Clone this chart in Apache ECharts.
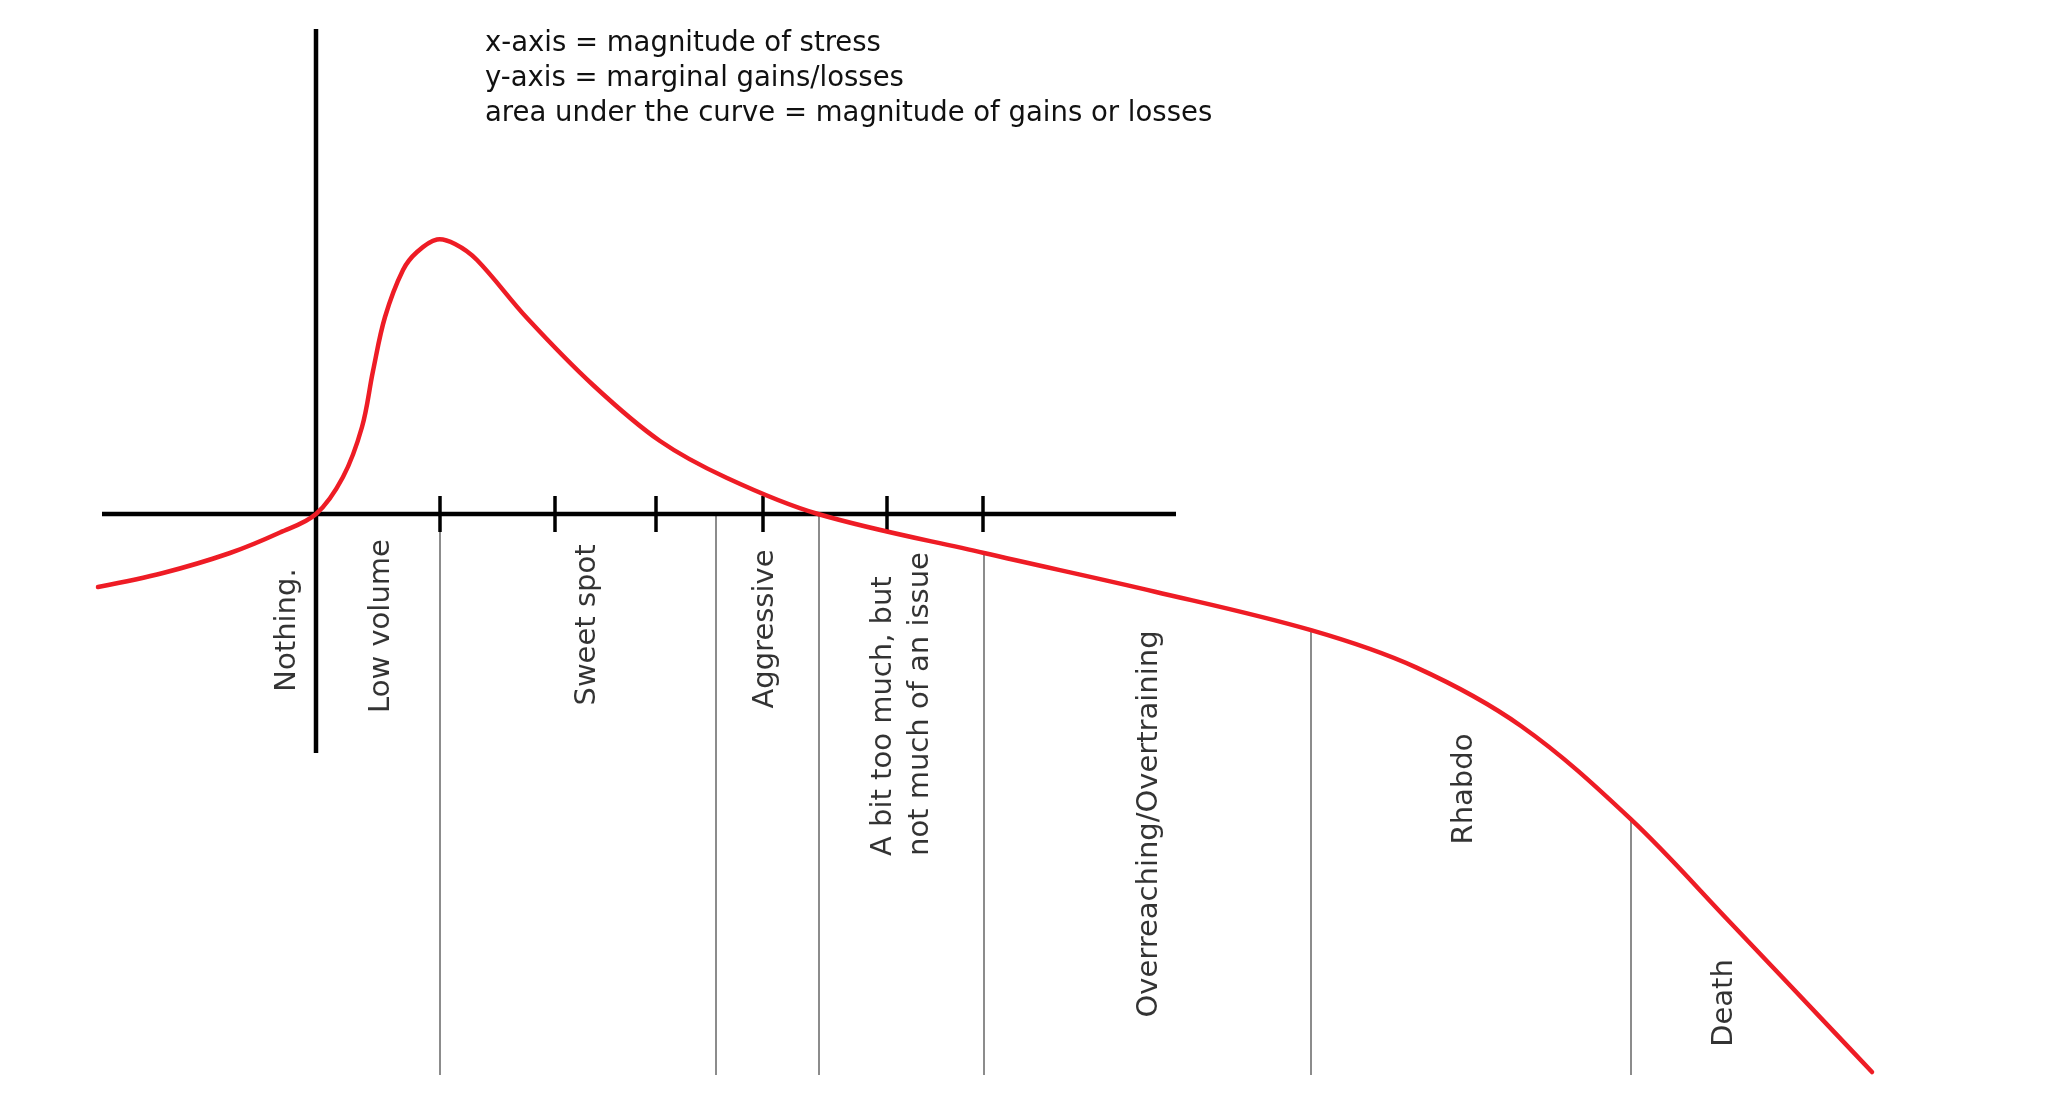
<!DOCTYPE html>
<html>
<head>
<meta charset="utf-8">
<style>
  html, body { margin: 0; padding: 0; background: #ffffff; }
  #chart { width: 2048px; height: 1096px; }
</style>
<script src="https://cdn.jsdelivr.net/npm/echarts@6/dist/echarts.min.js"></script>
</head>
<body>
<div id="chart"></div>
<script>
// ---- data (stress units on x, marginal gain/loss units on y) ----
const curveX = [-21.8, -15.3, -8.6, -3.6, 0, 2.7, 4.6, 5.7, 6.9, 8.7, 10.1, 12.1, 13.9, 16.1, 21.1, 27.7, 34.4, 41.1, 50.2, 66.8, 83.9, 99.5, 110.0, 120.5, 131.45, 141.4, 151.85, 155.6];
const curveY = [-7.3, -5.9, -3.9, -1.85, 0, 3.7, 8.7, 14.3, 19.7, 24.4, 26.2, 27.45, 27.0, 25.4, 19.6, 12.9, 7.3, 3.6, 0, -3.9, -7.77, -11.62, -15.34, -21.2, -30.49, -40.82, -51.84, -55.8];

const xAxisExtent = [-21.4, 86.0];
const yAxisExtent = [48.5, -23.9];

const tickX = [12.4, 23.9, 34.0, 44.7, 57.1, 66.7];
const tickHalf = 1.8;

const dividerX = [12.4, 40.0, 50.3, 66.8, 99.5, 131.5];
const dividerTop = [0, 0, 0, -3.9, -11.6, -30.5];
const dividerBottom = -56.1;

const zoneNames = ['Nothing.', 'Low volume', 'Sweet spot', 'Aggressive', 'A bit too much, but\nnot much of an issue', 'Overreaching/Overtraining', 'Rhabdo', 'Death'];
const zoneX = [-2.9, 6.5, 27.1, 44.9, 58.55, 83.3, 114.8, 140.8];
const zoneY = [-11.6, -11.2, -11.1, -11.5, -34.2, -31.0, -27.5, -48.9];

const legendLines = ['x-axis = magnitude of stress', 'y-axis = marginal gains/losses', 'area under the curve = magnitude of gains or losses'];

// ---- chart ----
const FONT = 'DejaVu Sans';
const chart = echarts.init(document.getElementById('chart'));

function segmentSeries(name, data, color, width) {
  return {
    type: 'custom',
    name: name,
    silent: true,
    data: data,
    renderItem: function (params, api) {
      const p1 = api.coord([api.value(0), api.value(1)]);
      const p2 = api.coord([api.value(2), api.value(3)]);
      return {
        type: 'line',
        shape: { x1: p1[0], y1: p1[1], x2: p2[0], y2: p2[1] },
        style: { stroke: color, lineWidth: width, lineCap: 'butt' }
      };
    },
    z: 2
  };
}

const dividerData = dividerX.map((x, i) => [x, dividerTop[i], x, dividerBottom]);
const tickData = tickX.map(x => [x, tickHalf, x, -tickHalf]);
const axisData = [
  [xAxisExtent[0], 0, xAxisExtent[1], 0],
  [0, yAxisExtent[0], 0, yAxisExtent[1]]
];

const labelData = zoneNames.map((n, i) => {
  const item = { name: n, value: [zoneX[i], zoneY[i]] };
  if (n.indexOf('\n') >= 0) {
    item.label = { align: 'left' };
  }
  return item;
});

chart.setOption({
  backgroundColor: '#ffffff',
  animation: false,
  title: {
    text: legendLines.join('\n'),
    left: 480,
    top: 21,
    textStyle: { fontFamily: FONT, fontSize: 27.5, fontWeight: 'normal', color: '#111', lineHeight: 35 }
  },
  grid: { left: 16, top: 14, width: 1860, height: 1080 },
  xAxis: { type: 'value', min: -30, max: 156, show: false },
  yAxis: { type: 'value', min: -58, max: 50, show: false },
  series: [
    segmentSeries('dividers', dividerData, '#8c8c8c', 2),
    segmentSeries('axes', axisData, '#000000', 4.5),
    segmentSeries('ticks', tickData, '#000000', 3.5),
    {
      type: 'custom',
      name: 'response',
      silent: true,
      data: [[curveX[0], curveY[0]]],
      renderItem: function (params, api) {
        const pts = curveX.map((x, i) => api.coord([x, curveY[i]]));
        return {
          type: 'polyline',
          shape: { points: pts, smooth: 0.35 },
          style: { stroke: '#ee1c25', lineWidth: 4.5, fill: null, lineJoin: 'round', lineCap: 'round' }
        };
      },
      z: 5
    },
    {
      type: 'scatter',
      name: 'zones',
      data: labelData,
      symbolSize: 0,
      label: {
        show: true,
        position: 'inside',
        formatter: p => p.name,
        rotate: 90,
        align: 'center',
        verticalAlign: 'middle',
        fontFamily: FONT,
        fontSize: 29,
        lineHeight: 37,
        color: '#000'
      },
      z: 6
    }
  ]
});
</script>
</body>
</html>
